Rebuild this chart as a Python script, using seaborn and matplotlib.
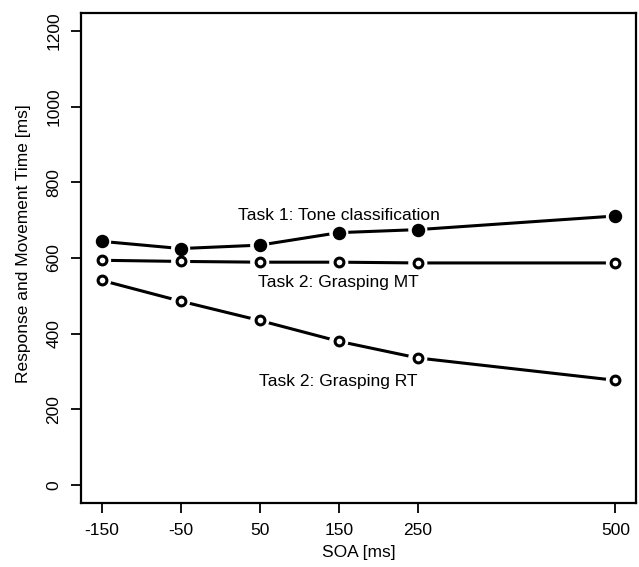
import pandas as pd
import numpy as np
import matplotlib
matplotlib.use("Agg")
import matplotlib.pyplot as plt
import seaborn as sns

# data
soa = [-150, -50, 50, 150, 250, 500]
task1_tone = [644, 625, 634, 667, 675, 711]
task2_mt = [594, 591, 589, 589, 587, 587]
task2_rt = [541, 486, 435, 380, 336, 277]
y_ticks = [0, 200, 400, 600, 800, 1000, 1200]

series = ["Task 1: Tone classification", "Task 2: Grasping MT", "Task 2: Grasping RT"]
df = pd.DataFrame({
    "SOA": soa * 3,
    "time": task1_tone + task2_mt + task2_rt,
    "task": np.repeat(series, len(soa)),
})

sns.set_style("ticks")
plt.rcParams["font.family"] = ["Liberation Sans", "DejaVu Sans"]
plt.rcParams["text.color"] = "black"
plt.rcParams["axes.labelcolor"] = "black"
plt.rcParams["xtick.color"] = "black"
plt.rcParams["ytick.color"] = "black"
fs = 12.5

fig = plt.figure(figsize=(6.39, 5.67), dpi=100)
ax = fig.add_axes([0.1268, 0.1123, 0.8685, 0.8653])

# lines with gaps at the points (like R type="b")
sns.lineplot(data=df, x="SOA", y="time", units="task", estimator=None,
             color="black", lw=2.2, ax=ax, legend=False)
sns.scatterplot(data=df, x="SOA", y="time", color="white", s=190,
                edgecolor="none", ax=ax, legend=False, zorder=3)
filled = df[df["task"] == series[0]]
hollow = df[df["task"] != series[0]]
sns.scatterplot(data=filled, x="SOA", y="time", color="black", s=75,
                edgecolor="black", linewidth=1, ax=ax, legend=False, zorder=4)
sns.scatterplot(data=hollow, x="SOA", y="time", color="white", s=40,
                edgecolor="black", linewidth=2.2, ax=ax, legend=False, zorder=4)

ax.text(150, 701, series[0], ha="center", va="baseline", fontsize=fs)
ax.text(150, 524, series[1], ha="center", va="baseline", fontsize=fs)
ax.text(150, 262, series[2], ha="center", va="baseline", fontsize=fs)

ax.set_xlim(-176, 526)
ax.set_ylim(-48, 1248)
ax.set_xticks(soa)
ax.set_xticklabels([str(s) for s in soa], fontsize=fs)
ax.set_yticks(y_ticks)
ax.set_yticklabels([str(t) for t in y_ticks], fontsize=fs, rotation=90, va="center")
ax.tick_params(length=7, width=1.3, pad=7)
for sp in ax.spines.values():
    sp.set_linewidth(1.6)
    sp.set_color("black")
ax.set_xlabel("SOA [ms]", fontsize=fs, labelpad=5)
ax.set_ylabel("Response and Movement Time [ms]", fontsize=fs)
ax.yaxis.set_label_coords(-0.09, 0.53)

fig.savefig("out.png", dpi=100)
